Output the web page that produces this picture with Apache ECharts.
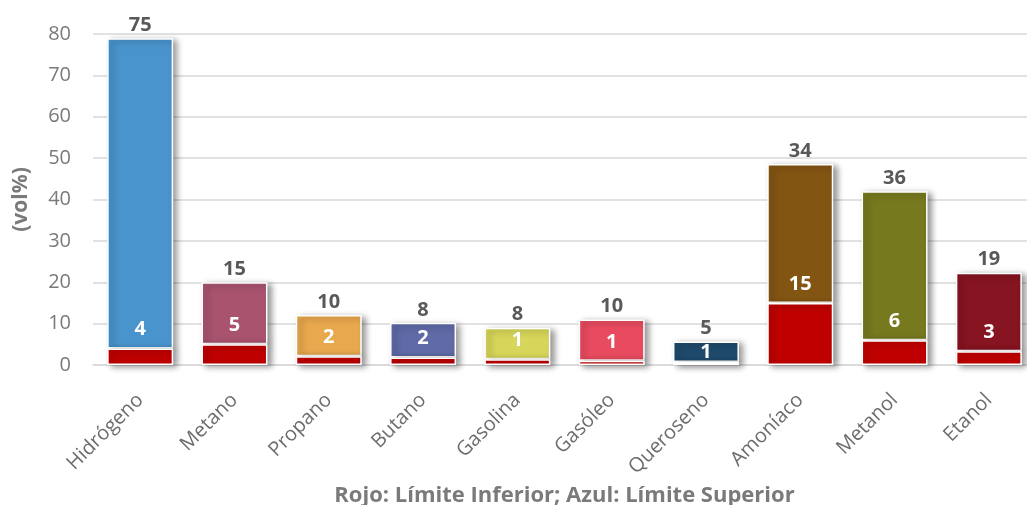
<!DOCTYPE html>
<html>
<head>
<meta charset="utf-8">
<script src="https://cdn.jsdelivr.net/npm/echarts@6/dist/echarts.min.js"></script>
<style>
  html, body { margin: 0; padding: 0; background: #fff; }
  #chart { width: 1027px; height: 505px; }
</style>
</head>
<body>
<div id="chart"></div>
<script>
// datos
const categories = ["Hidrógeno", "Metano", "Propano", "Butano", "Gasolina", "Gasóleo", "Queroseno", "Amoníaco", "Metanol", "Etanol"];
const limiteInferior = [4, 5, 2.1, 1.8, 1.4, 1, 0.7, 15, 6, 3.3];
const limiteSuperior = [75, 15, 10, 8.4, 7.6, 10, 5, 33.6, 36, 19];
const barColors = ["#4a94cd", "#a9536f", "#e8a84e", "#5f6aa6", "#d7d65a", "#e84b5f", "#1f4a6c", "#835513", "#77791f", "#861421"];
const yTicks = [0, 10, 20, 30, 40, 50, 60, 70, 80];

const font = "'Open Sans', 'Noto Sans', sans-serif";
const shadow = {
  borderColor: "#ffffff",
  borderWidth: 1.5,
  shadowColor: "rgba(0,0,0,0.4)",
  shadowBlur: 6,
  shadowOffsetX: 4,
  shadowOffsetY: 2,
};

const chart = echarts.init(document.getElementById("chart"), null, { renderer: "canvas" });

const option = {
  animation: false,
  backgroundColor: "#ffffff",
  grid: { left: 93, right: -9, top: 34, bottom: 140, containLabel: false, outerBoundsMode: "none" },
  xAxis: {
    type: "category",
    data: categories,
    name: "Rojo: Límite Inferior; Azul: Límite Superior",
    nameLocation: "middle",
    nameGap: 116,
    nameTextStyle: { fontFamily: font, fontSize: 22, fontWeight: "bold", color: "#7a7a7a" },
    axisLine: { lineStyle: { color: "#d9d9d9", width: 1.5 } },
    axisTick: { show: false },
    axisLabel: { rotate: 45, margin: 32, fontFamily: font, fontSize: 20, color: "#6d6d6d" },
  },
  yAxis: {
    type: "value",
    min: yTicks[0],
    max: yTicks[yTicks.length - 1],
    interval: 10,
    name: "(vol%)",
    nameLocation: "middle",
    nameGap: 61,
    nameTextStyle: { fontFamily: font, fontSize: 21, fontWeight: "bold", color: "#7a7a7a" },
    axisLine: { show: false },
    axisTick: { show: false },
    axisLabel: { margin: 22, fontFamily: font, fontSize: 20, color: "#7a7a7a" },
    splitLine: { lineStyle: { color: "#d9d9d9", width: 1.5 } },
  },
  series: [
    {
      name: "Límite Inferior",
      type: "bar",
      stack: "lim",
      barWidth: 66,
      data: limiteInferior.map((v, i) => ({
        value: v,
        label: i === 6 ? { distance: 0 } : undefined,
      })),
      itemStyle: Object.assign({ color: "#c00000" }, shadow),
      label: {
        show: true,
        position: "top",
        distance: 9,
        fontFamily: font,
        fontSize: 20,
        fontWeight: "bold",
        color: "#ffffff",
        formatter: (p) => Math.round(p.value),
      },
      z: 3,
    },
    {
      name: "Límite Superior",
      type: "bar",
      stack: "lim",
      barWidth: 66,
      data: limiteSuperior.map((v, i) => ({
        value: v,
        itemStyle: { color: barColors[i] },
      })),
      itemStyle: shadow,
      label: {
        show: true,
        position: "top",
        distance: 3,
        fontFamily: font,
        fontSize: 20,
        fontWeight: "bold",
        color: "#595959",
        formatter: (p) => Math.round(p.value),
      },
      z: 2,
    },
  ],
};

chart.setOption(option);
</script>
</body>
</html>
